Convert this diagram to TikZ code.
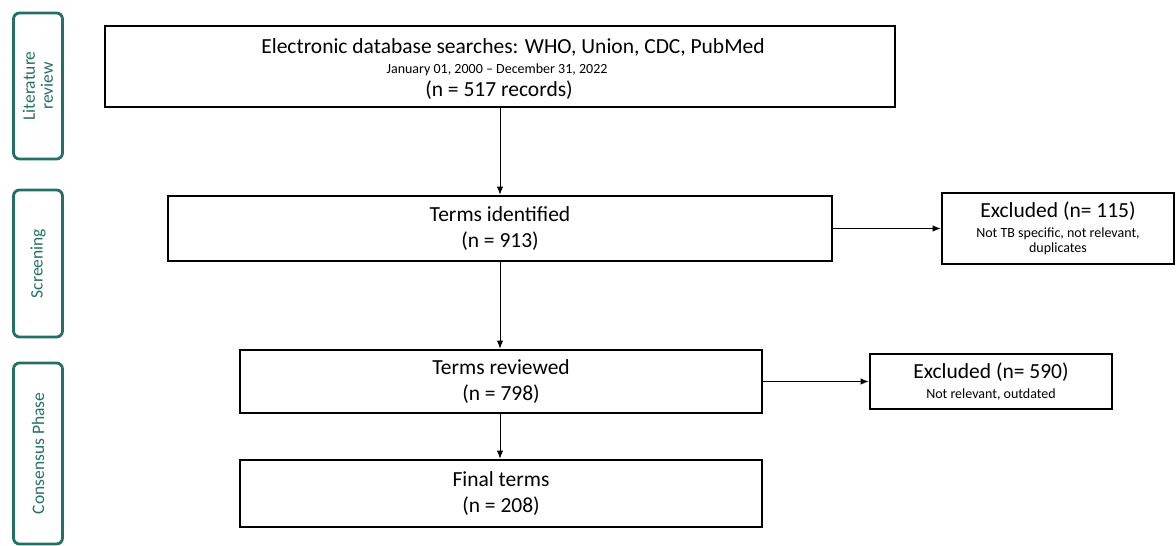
\documentclass[tikz,border=0pt]{standalone}
\usepackage{fontspec}
\setmainfont{Carlito}
\usetikzlibrary{positioning, arrows.meta}
\definecolor{phaseteal}{RGB}{36,112,101}

\begin{document}
\begin{tikzpicture}[
      x=1pt, y=-1pt,
      font=\fontsize{21.5}{26}\selectfont,
      box/.style={draw, line width=2.6pt, inner sep=0pt, fill=white},
      phase/.style={draw=phaseteal, line width=2.8pt, rounded corners=6pt,
                    minimum width=49, inner sep=0pt},
      phaselbl/.style={text=phaseteal, rotate=90, align=center,
                       font=\fontsize{17.5}{18}\selectfont},
      small/.style={font=\fontsize{14}{15}\selectfont},
      flow/.style={-{Latex[length=2.8mm, width=2.2mm]}, line width=0.9pt}
    ]
    \useasboundingbox (0,0) rectangle (1176,546);

    % Phasen links
    \node[phase, minimum height=146] (litbox) at (38,86) {};
    \node[phaselbl] (litlbl) at (litbox) {Literature\\review};
    \node[phase, minimum height=147] (scrbox) at (38,263.5) {};
    \node[phaselbl] (scrlbl) at (scrbox) {Screening};
    \node[phase, minimum height=181] (conbox) at (38,453.5) {};
    \node[phaselbl] (conlbl) at (conbox) {Consensus Phase};

    % Hauptkette
    \node[box, minimum width=790, minimum height=81] (search) at (500,66.5) {};
    \node (searchtl) at (513,47) {Electronic database searches: WHO, Union, CDC, PubMed};
    \node[small] (searchdt) at (497,70) {January 01, 2000 -- December 31, 2022};
    \node (searchn) at (499,90) {(n = 517 records)};

    \node[box, minimum width=664, minimum height=65, align=center] (ident) at (500,228.5)
      {Terms identified\\(n = 913)};
    \node[box, minimum width=522, minimum height=63, align=center] (review) at (501,381.5)
      {Terms reviewed\\(n = 798)};
    \node[box, minimum width=522, minimum height=67, align=center] (final) at (501,493.5)
      {Final terms\\(n = 208)};

    % Ausschluesse
    \node[box, small, minimum width=232, minimum height=71, align=center] (excla) at (1058,228.5)
      {{\fontsize{21.5}{26}\selectfont Excluded (n= 115)}\\[5pt]Not TB specific, not relevant,\\duplicates};
    \node[box, small, minimum width=242, minimum height=55, align=center] (exclb) at (991,381.5)
      {{\fontsize{21.5}{26}\selectfont Excluded (n= 590)}\\[5pt]Not relevant, outdated};

    % Pfeile
    \draw[flow] (search.south -| ident.north) -- (ident.north);
    \draw[flow] (ident.south) -- (ident.south |- review.north);
    \draw[flow] (ident.south |- review.south) -- (ident.south |- final.north);
    \draw[flow] (ident.east) -- (excla.west);
    \draw[flow] (review.east) -- (review.east -| exclb.west);
  \end{tikzpicture}
\end{document}
